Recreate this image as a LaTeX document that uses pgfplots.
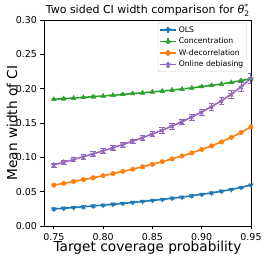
\documentclass[border=0pt]{standalone}
\usepackage{fontspec}
\setmainfont{DejaVu Sans}
\usepackage{pgfplots}
\usepackage{pgfplotstable}
\pgfplotsset{compat=1.18}
\usetikzlibrary{plotmarks}
\definecolor{tblue}{HTML}{1F77B4}
\definecolor{torange}{HTML}{FF7F0E}
\definecolor{tgreen}{HTML}{2CA02C}
\definecolor{tpurple}{HTML}{9467BD}
\pgfplotstableread{
x y e
0.75 0.0247 0.0015
0.76 0.0258 0.0015
0.77 0.0269 0.0015
0.78 0.0280 0.0015
0.79 0.0292 0.0015
0.80 0.0304 0.0015
0.81 0.0316 0.0015
0.82 0.0329 0.0015
0.83 0.0343 0.0015
0.84 0.0357 0.0015
0.85 0.0372 0.0015
0.86 0.0387 0.0015
0.87 0.0404 0.0015
0.88 0.0421 0.0015
0.89 0.0440 0.0015
0.90 0.0460 0.0015
0.91 0.0482 0.0015
0.92 0.0506 0.0015
0.93 0.0532 0.0015
0.94 0.0562 0.0015
0.95 0.0596 0.0015
}\ols
\pgfplotstableread{
x y e
0.75 0.1845 0.0015
0.76 0.1854 0.0015
0.77 0.1864 0.0015
0.78 0.1873 0.0015
0.79 0.1883 0.0015
0.80 0.1894 0.0015
0.81 0.1905 0.0015
0.82 0.1916 0.0015
0.83 0.1928 0.0015
0.84 0.1940 0.0015
0.85 0.1953 0.0015
0.86 0.1966 0.0015
0.87 0.1980 0.0015
0.88 0.1995 0.0015
0.89 0.2012 0.0015
0.90 0.2029 0.0015
0.91 0.2048 0.0015
0.92 0.2068 0.0015
0.93 0.2091 0.0015
0.94 0.2117 0.0015
0.95 0.2146 0.0015
}\conc
\pgfplotstableread{
x y e
0.75 0.0595 0.0015
0.76 0.0621 0.0015
0.77 0.0648 0.0015
0.78 0.0675 0.0015
0.79 0.0703 0.0015
0.80 0.0733 0.0015
0.81 0.0763 0.0015
0.82 0.0795 0.0015
0.83 0.0828 0.0015
0.84 0.0863 0.0015
0.85 0.0899 0.0015
0.86 0.0937 0.0015
0.87 0.0977 0.0015
0.88 0.1020 0.0015
0.89 0.1065 0.0015
0.90 0.1114 0.0015
0.91 0.1167 0.0015
0.92 0.1225 0.0015
0.93 0.1290 0.0015
0.94 0.1362 0.0015
0.95 0.1445 0.0015
}\wdec
\pgfplotstableread{
x y e
0.75 0.0890 0.0030
0.76 0.0928 0.0030
0.77 0.0968 0.0031
0.78 0.1009 0.0032
0.79 0.1051 0.0032
0.80 0.1094 0.0033
0.81 0.1139 0.0034
0.82 0.1186 0.0035
0.83 0.1235 0.0036
0.84 0.1286 0.0037
0.85 0.1340 0.0038
0.86 0.1396 0.0040
0.87 0.1456 0.0041
0.88 0.1519 0.0043
0.89 0.1587 0.0045
0.90 0.1660 0.0047
0.91 0.1738 0.0050
0.92 0.1824 0.0054
0.93 0.1919 0.0058
0.94 0.2027 0.0064
0.95 0.2150 0.0070
}\onl
\begin{document}
\begin{tikzpicture}
\begin{axis}[
  scale only axis,
  width=207pt, height=206pt,
  xmin=0.74, xmax=0.95, ymin=0, ymax=0.30,
  xtick={0.75,0.80,0.85,0.90,0.95},
  ytick={0,0.05,0.10,0.15,0.20,0.25,0.30},
  xticklabel style={/pgf/number format/.cd,fixed,fixed zerofill,precision=2,assume math mode=true},
  yticklabel style={/pgf/number format/.cd,fixed,fixed zerofill,precision=2,assume math mode=true},
  ticklabel style={font=\fontsize{9.5}{11}\selectfont},
  tick align=outside, xtick pos=bottom, ytick pos=left,
  major tick length=3.5pt,
  tick style={black, line width=0.8pt},
  axis line style={black, line width=0.8pt},
  xlabel={Target coverage probability},
  ylabel={Mean width of CI},
  label style={font=\fontsize{13.7}{16}\selectfont},
  xlabel style={at={(axis description cs:0.5,-0.107)}, anchor=center},
  ylabel style={at={(axis description cs:-0.155,0.5)}, anchor=center, rotate=0},
  title={Two sided CI width comparison for \textit{θ}\rlap{\raisebox{0.45em}{\fontsize{7.5}{8}\selectfont *}}\raisebox{-0.22em}{\fontsize{7.5}{8}\selectfont 2}},
  title style={font=\fontsize{11}{12}\selectfont, at={(axis description cs:0.5,1.0)}, anchor=base, inner sep=0pt},
  legend style={at={(axis description cs:0.981,0.987)}, anchor=north east,
    font=\fontsize{7.7}{9}\selectfont, draw=black!20, fill=white, fill opacity=0.8, text opacity=1,
    rounded corners=2pt, inner sep=1.5pt, row sep=0.2pt},
  legend cell align=left,
  legend image code/.code={
    \draw[#1, mark=none] (0cm,0cm) -- (0.55cm,0cm);
    \draw[#1, mark=none] (0.275cm,-3pt) -- (0.275cm,3pt);
    \draw[#1, only marks] plot coordinates {(0.275cm,0cm)};
  },
  every axis plot/.append style={line width=1.6pt},
  error bars/y dir=both, error bars/y explicit,
]
\addplot[color=tblue, mark=triangle*, mark size=2.6pt, mark options={rotate=180, line width=0.5pt},
  error bars/error bar style={line width=1.2pt, tblue!60}] table[x=x, y=y, y error=e] {\ols};
\addlegendentry{OLS}
\addplot[color=tgreen, mark=triangle*, mark size=2.6pt, mark options={line width=0.5pt},
  error bars/error bar style={line width=1.2pt, tgreen!60}] table[x=x, y=y, y error=e] {\conc};
\addlegendentry{Concentration}
\addplot[color=torange, mark=*, mark size=2.2pt, mark options={line width=0.5pt},
  error bars/error bar style={line width=1.2pt, torange!60}] table[x=x, y=y, y error=e] {\wdec};
\addlegendentry{W-decorrelation}
\addplot[color=tpurple, mark=star, mark size=2.8pt, mark options={line width=1pt},
  error bars/error bar style={line width=1.2pt, tpurple}] table[x=x, y=y, y error=e] {\onl};
\addlegendentry{Online debiasing}
\end{axis}
\pgfresetboundingbox
\path[use as bounding box] (-44pt,-35pt) rectangle (222pt,226pt);
\end{tikzpicture}
\end{document}
